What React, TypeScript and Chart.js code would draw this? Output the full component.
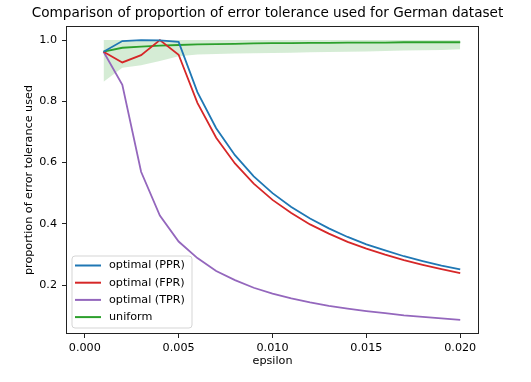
import React, { useEffect, useRef } from "react";
import { Chart, registerables } from "chart.js";

Chart.register(...registerables);

const epsilon = [
  0.001, 0.002, 0.003, 0.004, 0.005, 0.006, 0.007, 0.008, 0.009, 0.01,
  0.011, 0.012, 0.013, 0.014, 0.015, 0.016, 0.017, 0.018, 0.019, 0.02,
];
const pprValues = [
  0.962, 0.997, 1.0, 0.999, 0.994, 0.830, 0.712, 0.624, 0.555, 0.500,
  0.455, 0.417, 0.385, 0.357, 0.333, 0.313, 0.294, 0.278, 0.263, 0.251,
];
const fprValues = [
  0.962, 0.927, 0.951, 1.0, 0.952, 0.795, 0.681, 0.597, 0.531, 0.478,
  0.435, 0.398, 0.368, 0.341, 0.319, 0.299, 0.281, 0.266, 0.252, 0.239,
];
const tprValues = [
  0.962, 0.854, 0.570, 0.427, 0.342, 0.288, 0.246, 0.216, 0.191, 0.172,
  0.156, 0.143, 0.132, 0.123, 0.115, 0.108, 0.101, 0.096, 0.091, 0.086,
];
const uniformValues = [
  0.962, 0.975, 0.979, 0.982, 0.984, 0.986, 0.987, 0.988, 0.989, 0.990,
  0.990, 0.991, 0.991, 0.992, 0.992, 0.992, 0.993, 0.993, 0.993, 0.993,
];
const uniformLower = [
  0.864, 0.910, 0.918, 0.932, 0.947, 0.953, 0.955, 0.956, 0.957, 0.958,
  0.959, 0.960, 0.961, 0.962, 0.963, 0.964, 0.966, 0.967, 0.968, 0.970,
];
const uniformUpper = [
  1.0, 1.0, 1.0, 1.0, 1.0, 1.0, 1.0, 1.0, 1.0, 1.0,
  1.0, 1.0, 1.0, 1.0, 1.0, 1.0, 1.0, 1.0, 1.0, 1.0,
];
const xTicks = [0.0, 0.005, 0.01, 0.015, 0.02];
const yTicks = [0.2, 0.4, 0.6, 0.8, 1.0];
const legendLabels = ["optimal (PPR)", "optimal (FPR)", "optimal (TPR)", "uniform"];

const BLUE = "#1f77b4";
const RED = "#d62728";
const PURPLE = "#9467bd";
const GREEN = "#2ca02c";
const FONT = "'DejaVu Sans', sans-serif";

const pts = (ys: number[]) => epsilon.map((x, i) => ({ x, y: ys[i] }));

const framePlugin = {
  id: "frame",
  afterDraw(chart: any) {
    const { ctx, chartArea } = chart;
    const l = Math.round(chartArea.left) + 0.5;
    const t = Math.round(chartArea.top) + 0.5;
    const r = Math.round(chartArea.right) - 0.5;
    const b = Math.round(chartArea.bottom) - 0.5;
    ctx.save();
    ctx.strokeStyle = "#222";
    ctx.lineWidth = 1;
    ctx.strokeRect(l, t, r - l, b - t);
    ctx.restore();
  },
};

const legendPlugin = {
  id: "mplLegend",
  afterDraw(chart: any) {
    const { ctx, chartArea } = chart;
    const colors = [BLUE, RED, PURPLE, GREEN];
    const w = 120;
    const h = 72;
    const x0 = chartArea.left + 6;
    const y0 = chartArea.bottom - 6 - h;
    ctx.save();
    ctx.beginPath();
    const r = 3;
    ctx.moveTo(x0 + r, y0);
    ctx.lineTo(x0 + w - r, y0);
    ctx.quadraticCurveTo(x0 + w, y0, x0 + w, y0 + r);
    ctx.lineTo(x0 + w, y0 + h - r);
    ctx.quadraticCurveTo(x0 + w, y0 + h, x0 + w - r, y0 + h);
    ctx.lineTo(x0 + r, y0 + h);
    ctx.quadraticCurveTo(x0, y0 + h, x0, y0 + h - r);
    ctx.lineTo(x0, y0 + r);
    ctx.quadraticCurveTo(x0, y0, x0 + r, y0);
    ctx.closePath();
    ctx.fillStyle = "rgba(255,255,255,0.8)";
    ctx.fill();
    ctx.strokeStyle = "#d5d5d5";
    ctx.lineWidth = 1;
    ctx.stroke();
    ctx.font = `11.2px ${FONT}`;
    ctx.textBaseline = "middle";
    ctx.textAlign = "left";
    legendLabels.forEach((label, i) => {
      const cy = y0 + 9.5 + i * 17.2;
      ctx.strokeStyle = colors[i];
      ctx.lineWidth = 2;
      ctx.beginPath();
      ctx.moveTo(x0 + 3, cy);
      ctx.lineTo(x0 + 29, cy);
      ctx.stroke();
      ctx.fillStyle = "#000";
      ctx.fillText(label, x0 + 37, cy);
    });
    ctx.restore();
  },
};

export default function App() {
  const canvasRef = useRef<HTMLCanvasElement | null>(null);

  useEffect(() => {
    document.body.style.margin = "0";
    const canvas = canvasRef.current;
    if (!canvas) return;
    const tickFont = { family: FONT, size: 11.2 };
    const lineDs = (label: string, ys: number[], color: string) => ({
      label,
      data: pts(ys),
      borderColor: color,
      backgroundColor: color,
      borderWidth: 1.8,
      pointRadius: 0,
      tension: 0,
      fill: false,
    });
    const chart = new Chart(canvas, {
      type: "line",
      data: {
        datasets: [
          lineDs(legendLabels[0], pprValues, BLUE),
          lineDs(legendLabels[1], fprValues, RED),
          lineDs(legendLabels[2], tprValues, PURPLE),
          lineDs(legendLabels[3], uniformValues, GREEN),
          {
            label: "lower",
            data: pts(uniformLower),
            borderWidth: 0,
            borderColor: "rgba(0,0,0,0)",
            pointRadius: 0,
            fill: false,
          },
          {
            label: "upper",
            data: pts(uniformUpper),
            borderWidth: 0,
            borderColor: "rgba(0,0,0,0)",
            backgroundColor: "rgba(44,160,44,0.2)",
            pointRadius: 0,
            fill: "-1",
          },
        ],
      },
      options: {
        responsive: false,
        animation: false,
        layout: { padding: { left: 4, right: 0, top: 0, bottom: 10 } },
        plugins: {
          legend: { display: false },
          tooltip: { enabled: false },
          title: {
            display: true,
            text: "Comparison of proportion of error tolerance used for German dataset",
            color: "#000",
            font: { family: FONT, size: 13.6, weight: "normal" },
            padding: { top: 5, bottom: 4.7 },
          },
        },
        scales: {
          x: {
            type: "linear",
            min: -0.001,
            max: 0.021,
            afterBuildTicks: (axis: any) => {
              axis.ticks = xTicks.map((v) => ({ value: v }));
            },
            afterFit: (s: any) => {
              s.height = 38;
            },
            ticks: {
              callback: (v: any) => Number(v).toFixed(3),
              color: "#000",
              font: tickFont,
              padding: 3,
              maxRotation: 0,
              autoSkip: false,
            },
            grid: {
              display: true,
              drawOnChartArea: false,
              drawTicks: true,
              tickLength: 4,
              color: "#222",
            },
            border: { display: false },
            title: {
              display: true,
              text: "epsilon",
              color: "#000",
              font: tickFont,
              padding: { top: 2, bottom: 4 },
            },
          },
          y: {
            type: "linear",
            min: 0.04,
            max: 1.046,
            afterBuildTicks: (axis: any) => {
              axis.ticks = yTicks.map((v) => ({ value: v }));
            },
            afterFit: (s: any) => {
              s.width = 62;
            },
            ticks: {
              callback: (v: any) => Number(v).toFixed(1),
              color: "#000",
              font: tickFont,
              padding: 5,
              autoSkip: false,
            },
            grid: {
              display: true,
              drawOnChartArea: false,
              drawTicks: true,
              tickLength: 4,
              color: "#222",
            },
            border: { display: false },
            title: {
              display: true,
              text: "proportion of error tolerance used",
              color: "#000",
              font: tickFont,
              padding: { top: 18, bottom: 0 },
            },
          },
          yRightSpacer: {
            type: "linear",
            position: "right",
            display: true,
            ticks: { display: false },
            grid: { display: false, drawTicks: false },
            border: { display: false },
            afterFit: (s: any) => {
              s.width = 52;
            },
          },
        },
      },
      plugins: [framePlugin, legendPlugin],
    } as any);
    return () => chart.destroy();
  }, []);

  return (
    <div style={{ width: 531, height: 382 }}>
      <canvas ref={canvasRef} width={531} height={382} />
    </div>
  );
}
